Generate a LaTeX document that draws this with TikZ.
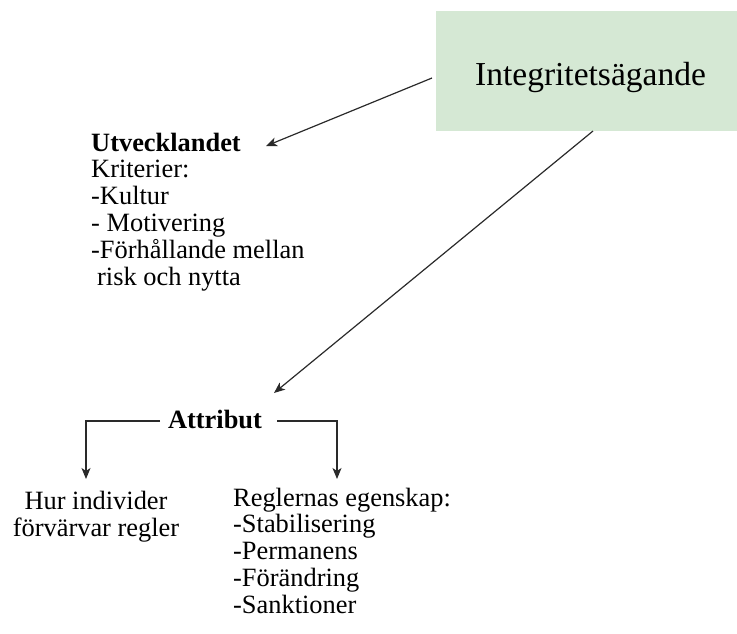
\documentclass[tikz,border=0pt]{standalone}
\usepackage{fontspec}
\setmainfont{Liberation Serif}
\usetikzlibrary{arrows.meta}
\definecolor{boxgreen}{HTML}{D5E8D4}
\definecolor{linegray}{HTML}{2A2A2A}
\begin{document}
\begin{tikzpicture}[x=1pt,y=-1pt,
  body/.style={font=\fontsize{26.4}{26.8}\selectfont, inner sep=0pt, align=left},
  boldbody/.style={font={\fontsize{26.4}{26.8}\selectfont\bfseries}, inner sep=0pt},
  conn/.style={draw=linegray, line width=1.2pt, -{Stealth[length=11pt,width=9pt,inset=3pt]}},
  greenbox/.style={fill=boxgreen, draw=none, inner sep=0pt, minimum width=301pt, minimum height=120pt}
]
\useasboundingbox (0,0) rectangle (737,633);
\node[greenbox, anchor=north west] (box) at (436,11) {};
\node[font=\fontsize{33.5}{40}\selectfont, inner sep=0pt, anchor=base] (title) at (590.5,85) {Integritetsägande};

% base anchor of a multi-line node = baseline of its last line
\node[body, anchor=base west] (utv) at (91,285) {\textbf{Utvecklandet}\\Kriterier:\\-Kultur\\- Motivering\\-Förhållande mellan\\\hspace{6pt}risk och nytta};

\node[boldbody, anchor=base] (attr) at (215,428) {Attribut};

\node[body, align=center, font=\fontsize{26.4}{27}\selectfont, anchor=base] (hur) at (96,536) {Hur individer\\förvärvar regler};
\node[body, font=\fontsize{26.4}{26.75}\selectfont, anchor=base west] (regl) at (233,613) {Reglernas egenskap:\\-Stabilisering\\-Permanens\\-Förändring\\-Sanktioner};

\coordinate (b1) at (432,78);
\coordinate (u1) at (266,146);
\coordinate (b2) at (593,131);
\coordinate (a1) at (274,393);
\coordinate (al) at (160,421);
\coordinate (ar) at (277,421);
\coordinate (hl) at (86,479);
\coordinate (hr) at (337,479);

\draw[conn] (b1) -- (u1);
\draw[conn] (b2) -- (a1);
\draw[conn] (al) -| (hl);
\draw[conn] (ar) -| (hr);
\end{tikzpicture}
\end{document}
